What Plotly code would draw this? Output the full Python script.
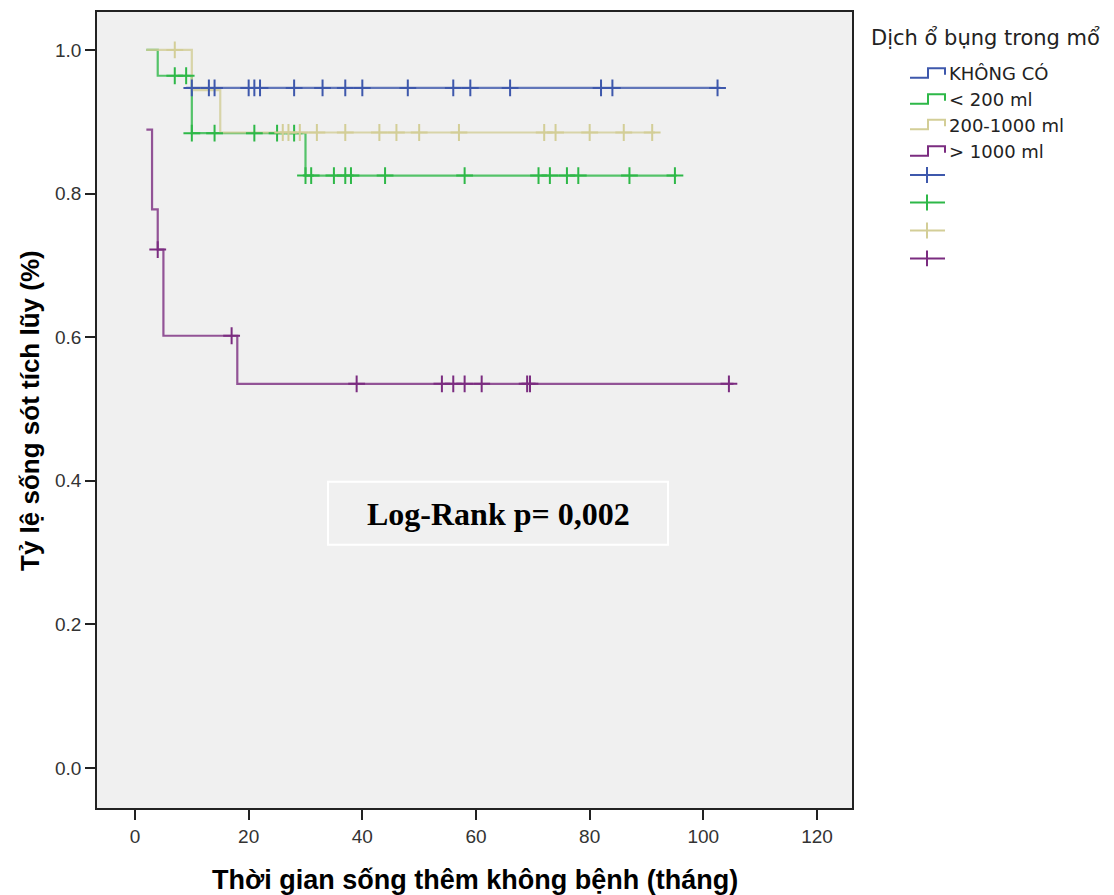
import plotly.graph_objects as go

# ---------------- data ----------------
groups = ["KHÔNG CÓ", "< 200 ml", "200-1000 ml", "> 1000 ml"]
colors = ["#3E58AC", "#2EB848", "#D3CE97", "#7B2C80"]

# step start times and survival level from that time on
blue_step_t = [9]
blue_step_s = [0.947]
blue_end = 103
blue_cens = [10, 13, 14, 20, 21, 22, 28, 33, 37, 40, 48, 56, 59, 66, 82, 84, 102.5]

green_step_t = [2, 4, 10, 30]
green_step_s = [1.0, 0.964, 0.884, 0.825]
green_end = 95.3
green_cens = [7, 9, 10, 14, 21, 25, 28, 30, 31, 35, 37, 38, 44, 58, 71, 73, 76, 78, 87, 95]

beige_step_t = [2, 10, 15]
beige_step_s = [1.0, 0.944, 0.885]
beige_end = 91.5
beige_cens = [7, 26, 27, 29, 32, 37, 43, 46, 50, 57, 72, 74, 80, 86, 91]

purple_step_t = [2, 3, 4, 5, 18]
purple_step_s = [0.889, 0.778, 0.722, 0.602, 0.535]
purple_end = 105.3
purple_cens = [4, 17, 39, 54, 56, 58, 61, 69, 69.5, 104.5]

x_ticks = [0, 20, 40, 60, 80, 100, 120]
y_ticks = [0.0, 0.2, 0.4, 0.6, 0.8, 1.0]

legend_title = "Dịch ổ bụng trong mổ"
x_title = "Thời gian sống thêm không bệnh (tháng)"
y_title = "Tỷ lệ sống sót tích lũy (%)"
logrank_text = "Log-Rank p= 0,002"

series = [
    (blue_step_t, blue_step_s, blue_end, blue_cens),
    (green_step_t, green_step_s, green_end, green_cens),
    (beige_step_t, beige_step_s, beige_end, beige_cens),
    (purple_step_t, purple_step_s, purple_end, purple_cens),
]

# ---------------- geometry helpers ----------------
L, R, T, B = 97, 852, 10, 808
W, H = 1114, 895


def PX(px):
    return (px - L) / (R - L)


def PY(py):
    return (B - py) / (B - T)


def level_at(step_t, step_s, t):
    v = step_s[0]
    for st, ss in zip(step_t, step_s):
        if st <= t:
            v = ss
    return v


fig = go.Figure()

# step lines
for (st, ss, end, cens), name, col in zip(series, groups, colors):
    fig.add_trace(go.Scatter(
        x=list(st) + [end], y=list(ss) + [ss[-1]],
        mode="lines", line=dict(color=col, width=2.2, shape="hv"),
        opacity=0.8, name=name, showlegend=False, hoverinfo="skip"))

# censor marks
for (st, ss, end, cens), name, col in zip(series, groups, colors):
    fig.add_trace(go.Scatter(
        x=cens, y=[level_at(st, ss, c) for c in cens],
        mode="markers",
        marker=dict(symbol="cross-thin", size=12, line=dict(color=col, width=2)),
        name=name + " censored", showlegend=False))

shapes = []
annotations = []

# Log-rank box
shapes.append(dict(type="rect", xref="paper", yref="paper",
                   x0=PX(328), x1=PX(668), y0=PY(544), y1=PY(481),
                   line=dict(color="white", width=2), fillcolor="rgba(0,0,0,0)"))
annotations.append(dict(xref="paper", yref="paper", x=PX(498), y=PY(513),
                        text="<b>" + logrank_text + "</b>", showarrow=False,
                        xanchor="center", yanchor="middle",
                        font=dict(family="Liberation Serif", size=32, color="black")))

# manual legend
annotations.append(dict(xref="paper", yref="paper", x=PX(869), y=PY(36),
                        text=legend_title, showarrow=False, xanchor="left", yanchor="middle",
                        font=dict(family="DejaVu Sans", size=21, color="#222")))
step_rows = [72, 98, 123.5, 150]
plus_rows = [173.5, 201, 229, 257]
for name, col, c in zip(groups, colors, step_rows):
    path = "M {} {} L {} {} L {} {} L {} {} L {} {}".format(
        PX(910), PY(c + 4), PX(928), PY(c + 4), PX(928), PY(c - 5.5),
        PX(945), PY(c - 5.5), PX(945), PY(c + 1))
    shapes.append(dict(type="path", xref="paper", yref="paper", path=path,
                       line=dict(color=col, width=2)))
    annotations.append(dict(xref="paper", yref="paper", x=PX(947), y=PY(c),
                            text=name, showarrow=False, xanchor="left", yanchor="middle",
                            font=dict(family="DejaVu Sans", size=18, color="#222")))
for col, c in zip(colors, plus_rows):
    shapes.append(dict(type="line", xref="paper", yref="paper",
                       x0=PX(910), x1=PX(945), y0=PY(c), y1=PY(c),
                       line=dict(color=col, width=2)))
    shapes.append(dict(type="line", xref="paper", yref="paper",
                       x0=PX(927), x1=PX(927), y0=PY(c - 8), y1=PY(c + 8),
                       line=dict(color=col, width=2)))

# axis titles
annotations.append(dict(xref="paper", yref="paper", x=PX(475), y=PY(880),
                        text="<b>" + x_title + "</b>", showarrow=False,
                        xanchor="center", yanchor="middle",
                        font=dict(family="Liberation Sans", size=27, color="black")))
annotations.append(dict(xref="paper", yref="paper", x=PX(30), y=PY(410),
                        text="<b>" + y_title + "</b>", showarrow=False, textangle=-90,
                        xanchor="center", yanchor="middle",
                        font=dict(family="Liberation Sans", size=26, color="black")))

x_per = 682 / 120.0
y_per = 720 / 1.0
fig.update_layout(
    width=W, height=H,
    margin=dict(l=L, r=W - R, t=T, b=H - B, pad=0),
    paper_bgcolor="white", plot_bgcolor="#F0F0F0",
    showlegend=False,
    shapes=shapes, annotations=annotations,
    xaxis=dict(range=[(L - 135) / x_per, (R - 135) / x_per],
               tickvals=x_ticks, ticks="outside", ticklen=10, tickwidth=1.5,
               tickcolor="#222", showline=True, mirror=True, linecolor="#222",
               linewidth=1.5, showgrid=False, zeroline=False,
               tickfont=dict(family="Liberation Sans", size=19, color="#333")),
    yaxis=dict(range=[(768 - B) / y_per, (768 - T) / y_per],
               tickvals=y_ticks, tickformat=".1f", ticks="outside", ticklen=10,
               tickwidth=1.5, tickcolor="#222", showline=True, mirror=True,
               linecolor="#222", linewidth=1.5, showgrid=False, zeroline=False,
               tickfont=dict(family="Liberation Sans", size=19, color="#333")),
)

fig.write_html("out.html")
